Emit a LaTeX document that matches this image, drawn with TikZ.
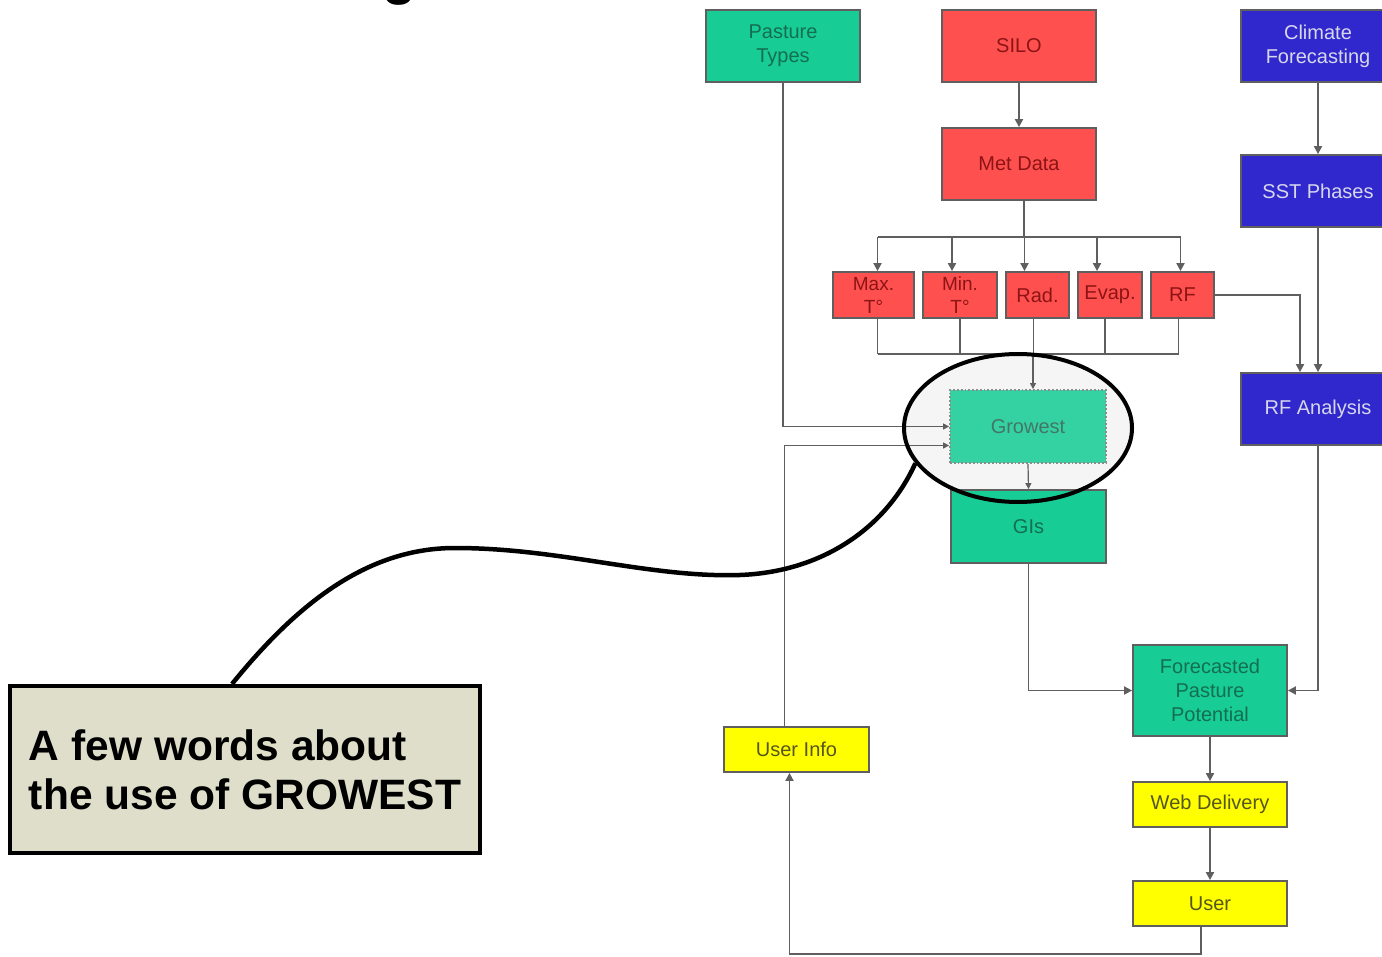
\documentclass[tikz,border=0pt]{standalone}
\usepackage{fontspec}
\setmainfont{Liberation Sans}
\usetikzlibrary{arrows.meta,shapes.geometric,calc}
\definecolor{bgreen}{RGB}{24,204,150}
\definecolor{tgreen}{RGB}{20,110,80}
\definecolor{bred}{RGB}{255,80,80}
\definecolor{tred}{RGB}{140,20,20}
\definecolor{bblue}{RGB}{48,40,205}
\definecolor{tblue}{RGB}{215,215,235}
\definecolor{byellow}{RGB}{255,255,0}
\definecolor{tyellow}{RGB}{85,85,30}
\definecolor{bcall}{RGB}{222,222,202}
\definecolor{lgray}{RGB}{95,95,95}
\begin{document}
\begin{tikzpicture}[x=1pt,y=-1pt,
  box/.style={draw=lgray, line width=1.8pt, inner sep=2pt, align=center,
    font=\fontsize{20}{24}\selectfont},
  gbox/.style={box, fill=bgreen, text=tgreen},
  rbox/.style={box, fill=bred, text=tred},
  bbox/.style={box, fill=bblue, text=tblue},
  ybox/.style={box, fill=byellow, text=tyellow},
  line/.style={draw=lgray, line width=1.8pt},
  arr/.style={line, -{Triangle[width=8pt,length=8pt]}},
  sarr/.style={line, line width=1.2pt, -{Triangle[width=6pt,length=6pt]}}]
\useasboundingbox (0,0) rectangle (1382,957);
% partially cut title
\node[anchor=base, font=\fontsize{56}{56}\selectfont\bfseries, inner sep=0] (ttl) at (400,-6) {g};
% ellipse fill (behind)
\fill[black!4] (1018,428) ellipse [x radius=114, y radius=74];
% nodes
\node[gbox, minimum width=154, minimum height=72] (past) at (783,46) {Pasture\\Types};
\node[rbox, minimum width=154, minimum height=72] (silo) at (1019,46) {SILO};
\node[bbox, minimum width=154, minimum height=72] (clim) at (1318,46) {Climate\\Forecasting};
\node[rbox, minimum width=154, minimum height=72] (met) at (1019,164) {Met Data};
\node[bbox, minimum width=154, minimum height=72] (sst) at (1318,191) {SST Phases};
\node[rbox, minimum width=81, minimum height=46, font=\fontsize{19}{23}\selectfont] (max) at (873.5,295) {Max.\\T°};
\node[rbox, minimum width=74, minimum height=46, font=\fontsize{19}{23}\selectfont] (min) at (960,295) {Min.\\T°};
\node[rbox, minimum width=63, minimum height=46] (rad) at (1037.5,295) {Rad.};
\node[rbox, minimum width=64, minimum height=46] (evap) at (1110,295) {Evap.};
\node[rbox, minimum width=63, minimum height=46] (rf) at (1182.5,295) {RF};
\node[box, fill=bgreen!88!white, text=tgreen!55!gray, draw=black!45, dotted, minimum width=156, minimum height=73] (grow) at (1028,426.5) {Growest};
\node[gbox, minimum width=155, minimum height=73] (gis) at (1028.5,526.5) {GIs};
\node[bbox, minimum width=154, minimum height=72] (rfa) at (1318,409) {RF Analysis};
\node[gbox, minimum width=154, minimum height=91] (fpp) at (1210,690.5) {Forecasted\\Pasture\\Potential};
\node[ybox, minimum width=154, minimum height=45] (web) at (1210,804.5) {Web Delivery};
\node[ybox, minimum width=154, minimum height=45] (user) at (1210,903.5) {User};
\node[ybox, minimum width=145, minimum height=45] (uinfo) at (796.5,749.5) {User Info};
% connectors
\draw[arr] (silo) -- (met);
\draw[arr] (clim) -- (sst);
\draw[arr] (sst) -- (rfa);
\coordinate (busT) at (1024,237);
\coordinate (busB) at (1033,354);
\draw[line] ([xshift=5pt]met.south) -- ([xshift=5pt]met.south |- busT);
\draw[line] ([xshift=4pt]max.north |- busT) -- ([xshift=-2pt]rf.north |- busT);
\draw[arr] ([xshift=4pt]max.north |- busT) -- ([xshift=4pt]max.north);
\draw[arr] ([xshift=-8pt]min.north |- busT) -- ([xshift=-8pt]min.north);
\draw[arr] ([xshift=-13pt]rad.north |- busT) -- ([xshift=-13pt]rad.north);
\draw[arr] ([xshift=-13pt]evap.north |- busT) -- ([xshift=-13pt]evap.north);
\draw[arr] ([xshift=-2pt]rf.north |- busT) -- ([xshift=-2pt]rf.north);
\draw[line] ([xshift=4pt]max.south) -- ([xshift=4pt]max.south |- busB);
\draw[line] (min.south) -- (min.south |- busB);
\draw[line] ([xshift=-4pt]rad.south) -- ([xshift=-4pt]rad.south |- busB);
\draw[line] ([xshift=-5pt]evap.south) -- ([xshift=-5pt]evap.south |- busB);
\draw[line] ([xshift=-4pt]rf.south) -- ([xshift=-4pt]rf.south |- busB);
\draw[line] ([xshift=4pt]max.south |- busB) -- ([xshift=-4pt]rf.south |- busB);
\draw[sarr] (busB) -- (busB |- grow.north);
\draw[arr] (rf.east) -| ([xshift=-18pt]rfa.north);
\draw[sarr] (past.south) |- (grow.west);
\draw[sarr] ([xshift=-12pt]uinfo.north) |- ([yshift=-19pt]grow.west);
\draw[sarr] (grow.south) -- (gis.north);
\draw[arr] (gis.south) |- (fpp.west);
\draw[arr] (rfa.south) |- (fpp.east);
\draw[arr] (fpp) -- (web);
\draw[arr] (web) -- (user);
\draw[arr] ([xshift=-9pt]user.south) -- ++(0,27) -| ([xshift=-7pt]uinfo.south);
% highlight ellipse and callout
\node[ellipse, draw=black, line width=4pt, minimum width=228, minimum height=148, inner sep=0] (ell) at (1018,428) {};
\node[draw=black, line width=4pt, fill=bcall, minimum width=470, minimum height=167, align=left,
  font=\fontsize{42.5}{49}\selectfont\bfseries] (call) at (245,769.5) {A few words about\\the use of GROWEST};
\draw[line width=4.5pt, black] ([xshift=-13pt]call.north) .. controls (300,600) and (370,548) .. (455,548)
  .. controls (560,548) and (650,578) .. (740,575)
  .. controls (820,572) and (885,530) .. (ell.199);
\end{tikzpicture}
\end{document}
